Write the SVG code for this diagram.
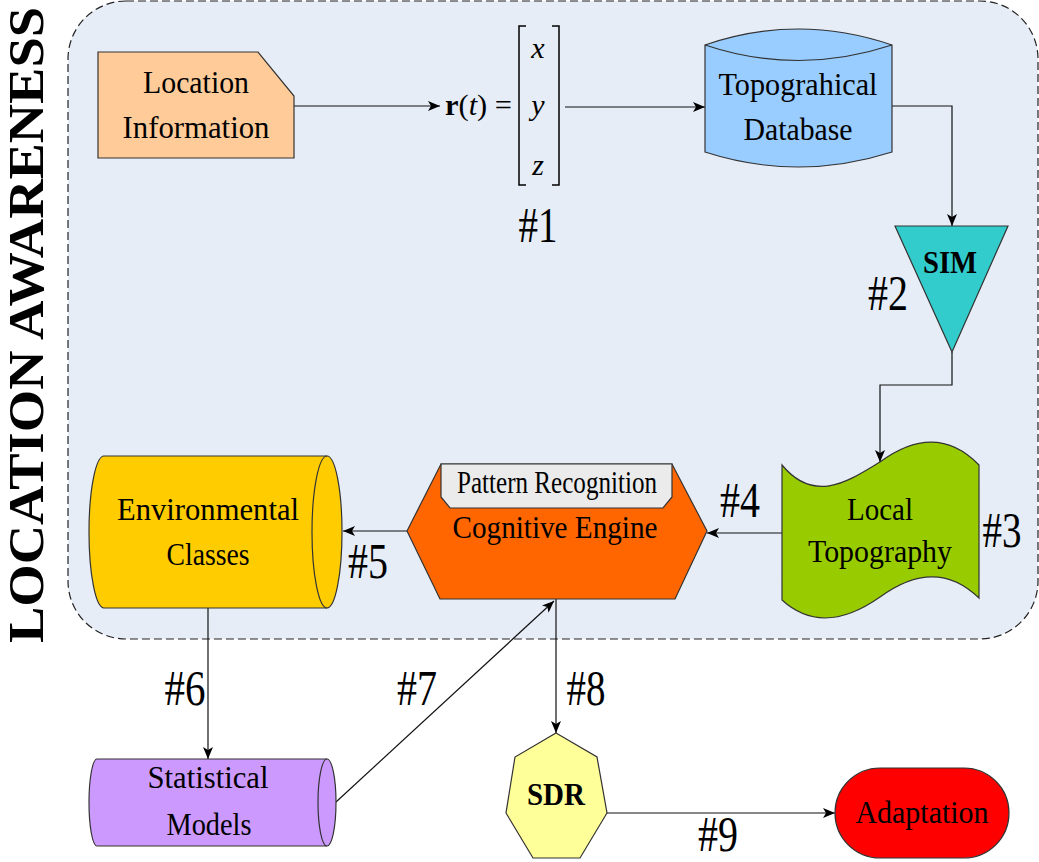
<svg xmlns="http://www.w3.org/2000/svg" width="1039" height="862" viewBox="0 0 1039 862" font-family="'Liberation Serif', 'Times New Roman', serif">
<style>
text{font-family:'Liberation Serif','Times New Roman',serif}
.lbl{font-size:32px;fill:#000;text-anchor:middle}
.num{font-size:50px;fill:#000;text-anchor:middle}
.node{stroke:#333;stroke-width:1.2}
.conn{fill:none;stroke:#111;stroke-width:1.2}
</style>
<defs>
<marker id="ah" markerUnits="userSpaceOnUse" markerWidth="14" markerHeight="12" refX="12" refY="5" orient="auto">
<path d="M0,0 L12,5 L0,10 L3,5 Z" fill="#000"/>
</marker>
</defs>
<rect width="1039" height="862" fill="#fff"/>
<g id="container">
<rect x="68" y="1" width="970" height="638" rx="58" ry="58" fill="#e6edf7" stroke="#222" stroke-width="1.2" stroke-dasharray="8,4"/>
<text transform="translate(43,325) rotate(-90)" font-weight="bold" font-size="50" text-anchor="middle" textLength="636" lengthAdjust="spacingAndGlyphs">LOCATION AWARENESS</text>
</g>
<g id="connectors">
<path class="conn" d="M294,106 L440,106" marker-end="url(#ah)"/>
<path class="conn" d="M565,107 L705,107" marker-end="url(#ah)"/>
<path class="conn" d="M892,106 L952,106 L952,226" marker-end="url(#ah)"/>
<path class="conn" d="M952,352 L952,385 L880,385 L880,462" marker-end="url(#ah)"/>
<path class="conn" d="M782,533 L707,533" marker-end="url(#ah)"/>
<path class="conn" d="M407,531 L343,531" marker-end="url(#ah)"/>
<path class="conn" d="M208,608 L208,759" marker-end="url(#ah)"/>
<path class="conn" d="M336,802 L554,601" marker-end="url(#ah)"/>
<path class="conn" d="M556,599 L556,733" marker-end="url(#ah)"/>
<path class="conn" d="M607,813 L835,813" marker-end="url(#ah)"/>
</g>
<g id="labels">
<text class="num" x="538" y="242" textLength="39" lengthAdjust="spacingAndGlyphs">#1</text>
<text class="num" x="888" y="310" textLength="40" lengthAdjust="spacingAndGlyphs">#2</text>
<text class="num" x="1002" y="547" textLength="39" lengthAdjust="spacingAndGlyphs">#3</text>
<text class="num" x="740" y="517" textLength="40" lengthAdjust="spacingAndGlyphs">#4</text>
<text class="num" x="368" y="578" textLength="40" lengthAdjust="spacingAndGlyphs">#5</text>
<text class="num" x="185" y="705" textLength="41" lengthAdjust="spacingAndGlyphs">#6</text>
<text class="num" x="417" y="705" textLength="40" lengthAdjust="spacingAndGlyphs">#7</text>
<text class="num" x="586" y="705" textLength="39" lengthAdjust="spacingAndGlyphs">#8</text>
<text class="num" x="718" y="851" textLength="40" lengthAdjust="spacingAndGlyphs">#9</text>
</g>
<g id="location-information">
<polygon class="node" points="98,52 258,52 294,96 294,158 98,158" fill="#ffcc99"/>
<text class="lbl" x="196" y="93" textLength="106" lengthAdjust="spacingAndGlyphs">Location</text>
<text class="lbl" x="196" y="138" textLength="147" lengthAdjust="spacingAndGlyphs">Information</text>
</g>
<g id="position-vector">
<text x="445" y="115" font-size="30" textLength="67" lengthAdjust="spacingAndGlyphs"><tspan font-weight="bold">r</tspan>(<tspan font-style="italic">t</tspan>) =</text>
<path d="M526,26 L519,26 L519,185 L526,185" fill="none" stroke="#000" stroke-width="1.5"/>
<path d="M552,26 L559,26 L559,185 L552,185" fill="none" stroke="#000" stroke-width="1.5"/>
<text x="538" y="58" font-size="30" font-style="italic" text-anchor="middle">x</text>
<text x="538" y="115" font-size="30" font-style="italic" text-anchor="middle">y</text>
<text x="538" y="175" font-size="30" font-style="italic" text-anchor="middle">z</text>
</g>
<g id="topographical-database">
<path class="node" d="M705,45 Q798,13 892,45 L892,152 Q798,182 705,152 Z" fill="#99ccff"/>
<path class="node" d="M705,45 Q798,76 892,45" fill="none"/>
<text class="lbl" x="798" y="95" textLength="159" lengthAdjust="spacingAndGlyphs">Topograhical</text>
<text class="lbl" x="798" y="140" textLength="109" lengthAdjust="spacingAndGlyphs">Database</text>
</g>
<g id="sim">
<polygon class="node" points="895,226 1008,226 952,352" fill="#33cccc"/>
<text class="lbl" x="950" y="273" font-weight="bold" textLength="54" lengthAdjust="spacingAndGlyphs">SIM</text>
</g>
<g id="local-topography">
<path class="node" d="M782,465 C815,505 850,480 880,462 C910,440 945,430 979,465 L979,598 C945,565 910,575 880,597 C850,618 815,630 782,600 Z" fill="#99cc00"/>
<text class="lbl" x="880" y="520" textLength="66" lengthAdjust="spacingAndGlyphs">Local</text>
<text class="lbl" x="880" y="562" textLength="144" lengthAdjust="spacingAndGlyphs">Topography</text>
</g>
<g id="cognitive-engine">
<polygon class="node" points="407,531 441,464 672,464 707,531 675,599 440,599" fill="#ff6600"/>
<polygon class="node" points="441,464 672,464 672,497 663,508 450,508 441,497" fill="#ebebeb"/>
<text class="lbl" x="557" y="493" font-size="26" textLength="200" lengthAdjust="spacingAndGlyphs">Pattern Recognition</text>
<text class="lbl" x="555" y="538" textLength="205" lengthAdjust="spacingAndGlyphs">Cognitive Engine</text>
</g>
<g id="environmental-classes">
<path class="node" d="M104,456 L327,456 A15,76 0 0 1 327,608 L104,608 A15,76 0 0 1 104,456 Z" fill="#ffcc00"/>
<path class="node" d="M327,456 A15,76 0 0 0 327,608" fill="none"/>
<text class="lbl" x="208" y="520" textLength="182" lengthAdjust="spacingAndGlyphs">Environmental</text>
<text class="lbl" x="208" y="565" textLength="83" lengthAdjust="spacingAndGlyphs">Classes</text>
</g>
<g id="statistical-models">
<path class="node" d="M97,759 L327,759 A9,43.5 0 0 1 327,846 L97,846 A8,43.5 0 0 1 97,759 Z" fill="#cc99ff"/>
<path class="node" d="M327,759 A9,43.5 0 0 0 327,846" fill="none"/>
<text class="lbl" x="208" y="788" textLength="121" lengthAdjust="spacingAndGlyphs">Statistical</text>
<text class="lbl" x="209" y="835" textLength="85" lengthAdjust="spacingAndGlyphs">Models</text>
</g>
<g id="sdr">
<polygon class="node" points="556,733 597,757 607,813 580,858 533,858 506,813 515,757" fill="#ffff99"/>
<text class="lbl" x="556" y="805" font-weight="bold" textLength="58" lengthAdjust="spacingAndGlyphs">SDR</text>
</g>
<g id="adaptation">
<rect class="node" x="835" y="768" width="174" height="90" rx="45" ry="45" fill="#ff0000"/>
<text class="lbl" x="922" y="823" textLength="133" lengthAdjust="spacingAndGlyphs">Adaptation</text>
</g>
</svg>
